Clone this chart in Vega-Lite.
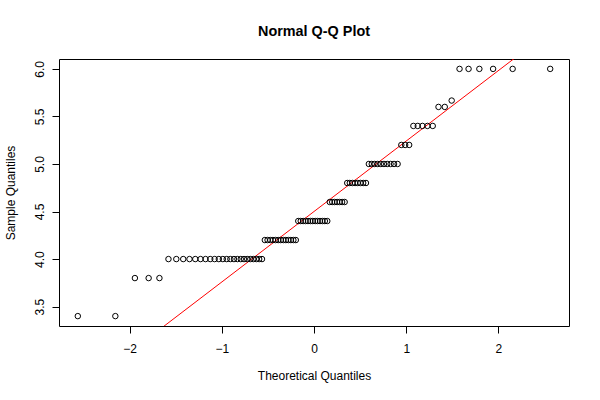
{
  "$schema": "https://vega.github.io/schema/vega-lite/v6.json",
  "width": 510,
  "height": 267,
  "autosize": {"type": "none"},
  "padding": {"left": 59, "top": 59, "right": 31, "bottom": 74},
  "background": "white",
  "config": {
    "font": "Liberation Sans",
    "view": {"stroke": "black", "strokeWidth": 1},
    "axis": {
      "grid": false,
      "domain": false,
      "tickColor": "black",
      "tickSize": 7,
      "labelFont": "Liberation Sans",
      "labelFontSize": 12,
      "labelColor": "black",
      "titleFont": "Liberation Sans",
      "titleFontSize": 12,
      "titleFontWeight": "normal",
      "titleColor": "black"
    }
  },
  "title": {
    "text": "Normal Q-Q Plot",
    "fontSize": 14.4,
    "fontWeight": "bold",
    "font": "Liberation Sans",
    "anchor": "middle",
    "color": "black",
    "offset": 20
  },
  "datasets": {
    "pts": [
      {"theo": -2.561, "sample": 3.4},
      {"theo": -2.154, "sample": 3.4},
      {"theo": -1.942, "sample": 3.8},
      {"theo": -1.793, "sample": 3.8},
      {"theo": -1.676, "sample": 3.8},
      {"theo": -1.578, "sample": 4.0},
      {"theo": -1.493, "sample": 4.0},
      {"theo": -1.418, "sample": 4.0},
      {"theo": -1.350, "sample": 4.0},
      {"theo": -1.2875, "sample": 4.0},
      {"theo": -1.230, "sample": 4.0},
      {"theo": -1.176, "sample": 4.0},
      {"theo": -1.125, "sample": 4.0},
      {"theo": -1.0775, "sample": 4.0},
      {"theo": -1.032, "sample": 4.0},
      {"theo": -0.9885, "sample": 4.0},
      {"theo": -0.9468, "sample": 4.0},
      {"theo": -0.9067, "sample": 4.0},
      {"theo": -0.8679, "sample": 4.0},
      {"theo": -0.8304, "sample": 4.0},
      {"theo": -0.7941, "sample": 4.0},
      {"theo": -0.7588, "sample": 4.0},
      {"theo": -0.7244, "sample": 4.0},
      {"theo": -0.6909, "sample": 4.0},
      {"theo": -0.6581, "sample": 4.0},
      {"theo": -0.626, "sample": 4.0},
      {"theo": -0.5946, "sample": 4.0},
      {"theo": -0.5637, "sample": 4.0},
      {"theo": -0.5334, "sample": 4.2},
      {"theo": -0.5036, "sample": 4.2},
      {"theo": -0.4741, "sample": 4.2},
      {"theo": -0.4451, "sample": 4.2},
      {"theo": -0.4165, "sample": 4.2},
      {"theo": -0.3881, "sample": 4.2},
      {"theo": -0.3602, "sample": 4.2},
      {"theo": -0.3325, "sample": 4.2},
      {"theo": -0.305, "sample": 4.2},
      {"theo": -0.2777, "sample": 4.2},
      {"theo": -0.2506, "sample": 4.2},
      {"theo": -0.2237, "sample": 4.2},
      {"theo": -0.1971, "sample": 4.2},
      {"theo": -0.1706, "sample": 4.4},
      {"theo": -0.1441, "sample": 4.4},
      {"theo": -0.1178, "sample": 4.4},
      {"theo": -0.0915, "sample": 4.4},
      {"theo": -0.0653, "sample": 4.4},
      {"theo": -0.0392, "sample": 4.4},
      {"theo": -0.0131, "sample": 4.4},
      {"theo": 0.0131, "sample": 4.4},
      {"theo": 0.0392, "sample": 4.4},
      {"theo": 0.0653, "sample": 4.4},
      {"theo": 0.0915, "sample": 4.4},
      {"theo": 0.1178, "sample": 4.4},
      {"theo": 0.1441, "sample": 4.4},
      {"theo": 0.1706, "sample": 4.6},
      {"theo": 0.1971, "sample": 4.6},
      {"theo": 0.2237, "sample": 4.6},
      {"theo": 0.2506, "sample": 4.6},
      {"theo": 0.2777, "sample": 4.6},
      {"theo": 0.305, "sample": 4.6},
      {"theo": 0.3325, "sample": 4.6},
      {"theo": 0.3602, "sample": 4.8},
      {"theo": 0.3881, "sample": 4.8},
      {"theo": 0.4165, "sample": 4.8},
      {"theo": 0.4451, "sample": 4.8},
      {"theo": 0.4741, "sample": 4.8},
      {"theo": 0.5036, "sample": 4.8},
      {"theo": 0.5334, "sample": 4.8},
      {"theo": 0.5637, "sample": 4.8},
      {"theo": 0.5946, "sample": 5.0},
      {"theo": 0.626, "sample": 5.0},
      {"theo": 0.6581, "sample": 5.0},
      {"theo": 0.6909, "sample": 5.0},
      {"theo": 0.7244, "sample": 5.0},
      {"theo": 0.7588, "sample": 5.0},
      {"theo": 0.7941, "sample": 5.0},
      {"theo": 0.8304, "sample": 5.0},
      {"theo": 0.8679, "sample": 5.0},
      {"theo": 0.9067, "sample": 5.0},
      {"theo": 0.9468, "sample": 5.2},
      {"theo": 0.9885, "sample": 5.2},
      {"theo": 1.032, "sample": 5.2},
      {"theo": 1.0775, "sample": 5.4},
      {"theo": 1.125, "sample": 5.4},
      {"theo": 1.176, "sample": 5.4},
      {"theo": 1.230, "sample": 5.4},
      {"theo": 1.2875, "sample": 5.4},
      {"theo": 1.350, "sample": 5.6},
      {"theo": 1.418, "sample": 5.6},
      {"theo": 1.493, "sample": 5.667},
      {"theo": 1.578, "sample": 6.0},
      {"theo": 1.676, "sample": 6.0},
      {"theo": 1.793, "sample": 6.0},
      {"theo": 1.942, "sample": 6.0},
      {"theo": 2.154, "sample": 6.0},
      {"theo": 2.561, "sample": 6.0}
    ],
    "qqline": [
      {"theo": -2.765, "sample": 2.4503},
      {"theo": 2.765, "sample": 6.5497}
    ]
  },
  "layer": [
    {
      "data": {"name": "qqline"},
      "mark": {"type": "line", "color": "red", "strokeWidth": 1, "clip": true},
      "encoding": {
        "x": {"field": "theo", "type": "quantitative"},
        "y": {"field": "sample", "type": "quantitative"}
      }
    },
    {
      "data": {"name": "pts"},
      "mark": {"type": "point", "shape": "circle", "filled": false, "color": "black", "size": 30, "strokeWidth": 1, "opacity": 1, "clip": true},
      "encoding": {
        "x": {
          "field": "theo",
          "type": "quantitative",
          "scale": {"domain": [-2.765, 2.765], "nice": false, "zero": false},
          "axis": {"title": "Theoretical Quantiles", "values": [-2, -1, 0, 1, 2], "format": "d", "labelPadding": 10, "titlePadding": 16, "labelExpr": "replace(datum.label, '-', '\u2013')"}
        },
        "y": {
          "field": "sample",
          "type": "quantitative",
          "scale": {"domain": [3.296, 6.104], "nice": false, "zero": false},
          "axis": {"title": "Sample Quantiles", "values": [3.5, 4.0, 4.5, 5.0, 5.5, 6.0], "format": ".1f", "labelAngle": -90, "labelAlign": "center", "labelBaseline": "bottom", "labelPadding": 6, "titlePadding": 16}
        }
      }
    }
  ]
}
